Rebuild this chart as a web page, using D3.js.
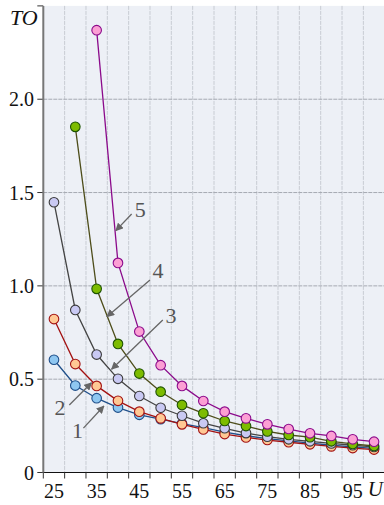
<!DOCTYPE html>
<html>
<head>
<meta charset="UTF-8">
<title>TO vs U</title>
<style>
  body { margin: 0; background: #fff; }
  svg { display: block; }
  svg text { font-family: "Times New Roman", Times, serif; }
</style>
</head>
<body>
<script src="https://d3js.org/d3.v7.min.js"></script>
<script>
// values
const uValues = [25, 30, 35, 40, 45, 50, 55, 60, 65, 70, 75, 80, 85, 90, 95, 100];
const curve1 = [0.604, 0.466, 0.398, 0.348, 0.309, 0.286, 0.262, 0.240, 0.216, 0.197, 0.182, 0.169, 0.157, 0.146, 0.137, 0.129];
const curve2 = [0.822, 0.581, 0.464, 0.384, 0.326, 0.290, 0.258, 0.231, 0.206, 0.188, 0.174, 0.162, 0.151, 0.140, 0.131, 0.123];
const curve3 = [1.448, 0.871, 0.632, 0.502, 0.410, 0.347, 0.304, 0.264, 0.237, 0.211, 0.192, 0.178, 0.167, 0.156, 0.146, 0.137];
const curve4 = [null, 1.852, 0.984, 0.689, 0.530, 0.433, 0.362, 0.317, 0.276, 0.249, 0.220, 0.201, 0.189, 0.167, 0.153, 0.142];
const curve5 = [null, null, 2.37, 1.123, 0.755, 0.575, 0.464, 0.383, 0.326, 0.290, 0.258, 0.233, 0.210, 0.196, 0.178, 0.165];

const xTickLabels = ["25", "35", "45", "55", "65", "75", "85", "95"];
const yTicks = [0, 0.5, 1.0, 1.5, 2.0, 2.5];
const yTickLabels = ["0", "0.5", "1.0", "1.5", "2.0", ""];

const width = 384, height = 505;
const svg = d3.select("body").append("svg").attr("width", width).attr("height", height);

const x = d3.scaleLinear().domain([22.5, 102.5]).range([43.3, 384.7]);
const y = d3.scaleLinear().domain([0, 2.5]).range([472.5, 5.9]);

// plot background
svg.append("rect")
  .attr("x", x(22.5)).attr("y", y(2.5))
  .attr("width", x(102.5) - x(22.5)).attr("height", y(0) - y(2.5))
  .attr("fill", "#edf0f6");

// grid: vertical lines sit between the U values
const gridX = d3.range(27.5, 100, 5);
svg.append("g").selectAll("line").data(gridX).join("line")
  .attr("x1", d => x(d)).attr("x2", d => x(d))
  .attr("y1", y(2.5)).attr("y2", y(0))
  .attr("stroke", "#c8ccd3").attr("stroke-width", 1).attr("stroke-dasharray", "4,1");
svg.append("g").selectAll("line").data(yTicks.slice(1, 5)).join("line")
  .attr("x1", x(22.5)).attr("x2", x(102.5))
  .attr("y1", d => y(d)).attr("y2", d => y(d))
  .attr("stroke", "#a6aab2").attr("stroke-width", 1).attr("stroke-dasharray", "4,1");

// x axis
const xAxis = svg.append("g");
xAxis.append("line")
  .attr("x1", x(22.5) - 5).attr("x2", x(102.5))
  .attr("y1", y(0)).attr("y2", y(0))
  .attr("stroke", "#111").attr("stroke-width", 1.2);
xAxis.selectAll(".tk").data([22.5].concat(gridX)).join("line")
  .attr("x1", d => x(d)).attr("x2", d => x(d))
  .attr("y1", y(0)).attr("y2", y(0) + 6)
  .attr("stroke", "#333").attr("stroke-width", 1);
xAxis.selectAll("text").data(xTickLabels).join("text")
  .attr("x", d => x(+d)).attr("y", 498)
  .attr("text-anchor", "middle").attr("font-size", 20).attr("fill", "#111")
  .text(d => d);
svg.append("text").attr("x", 383).attr("y", 496).attr("text-anchor", "end")
  .attr("font-size", 21).attr("font-style", "italic").attr("fill", "#111").text("U");

// y axis
const yAxis = svg.append("g");
yAxis.selectAll("line").data(yTicks).join("line")
  .attr("x1", x(22.5) - 6).attr("x2", x(22.5))
  .attr("y1", d => y(d)).attr("y2", d => y(d))
  .attr("stroke", "#333").attr("stroke-width", 1);
yAxis.selectAll("text").data(yTicks).join("text")
  .attr("x", 34).attr("y", d => y(d) + 7)
  .attr("text-anchor", "end").attr("font-size", 20).attr("fill", "#111")
  .text((d, i) => yTickLabels[i]);
yAxis.append("line")
  .attr("x1", x(22.5)).attr("x2", x(22.5))
  .attr("y1", y(2.5)).attr("y2", y(0))
  .attr("stroke", "#777").attr("stroke-width", 2);
svg.append("text").attr("x", 10).attr("y", 25)
  .attr("font-size", 22).attr("font-style", "italic").attr("fill", "#111").text("TO");

// curves
const series = [
  { values: curve1, line: "#1f4f8a", stroke: "#1f4f8a", fill: "#8fc7f1" },
  { values: curve2, line: "#a31212", stroke: "#a31212", fill: "#ffc894" },
  { values: curve3, line: "#444444", stroke: "#3a3a3a", fill: "#c9c9f3" },
  { values: curve4, line: "#4d4d1a", stroke: "#1d5200", fill: "#7dbc00" },
  { values: curve5, line: "#8b0a8b", stroke: "#8b0a8b", fill: "#fc9fd4" }
];

const line = d3.line()
  .defined(d => d.v != null)
  .x(d => x(d.u)).y(d => y(d.v));

series.forEach(s => {
  const pts = uValues.map((u, i) => ({ u: u, v: s.values[i] }));
  const g = svg.append("g");
  g.append("path").datum(pts)
    .attr("d", line).attr("fill", "none")
    .attr("stroke", s.line).attr("stroke-width", 1.3);
  g.selectAll("circle").data(pts.filter(d => d.v != null)).join("circle")
    .attr("cx", d => x(d.u)).attr("cy", d => y(d.v)).attr("r", 4.8)
    .attr("fill", s.fill).attr("stroke", s.stroke).attr("stroke-width", 1.1);
});

// curve numbers with arrows (data coordinates)
const notes = [
  { label: "1", tx: 30.5, ty: 0.185, x1: 31.9, y1: 0.238, x2: 36.7, y2: 0.356 },
  { label: "2", tx: 26.4, ty: 0.308, x1: 28.6, y1: 0.362, x2: 33.8, y2: 0.481 },
  { label: "3", tx: 52.4, ty: 0.801, x1: 50.5, y1: 0.817, x2: 38.5, y2: 0.553 },
  { label: "4", tx: 49.4, ty: 1.042, x1: 47.5, y1: 1.032, x2: 37.4, y2: 0.835 },
  { label: "5", tx: 45.2, ty: 1.369, x1: 43.2, y1: 1.385, x2: 39.5, y2: 1.296 }
];

svg.append("defs").append("marker")
  .attr("id", "head")
  .attr("viewBox", "0 -5 10 10")
  .attr("refX", 9).attr("refY", 0)
  .attr("markerWidth", 8).attr("markerHeight", 8)
  .attr("markerUnits", "userSpaceOnUse")
  .attr("orient", "auto")
  .append("path").attr("d", "M0,-5L10,0L0,5Z").attr("fill", "#666");

const ann = svg.append("g");
ann.selectAll("line").data(notes).join("line")
  .attr("x1", d => x(d.x1)).attr("y1", d => y(d.y1))
  .attr("x2", d => x(d.x2)).attr("y2", d => y(d.y2))
  .attr("stroke", "#666").attr("stroke-width", 1.3)
  .attr("marker-end", "url(#head)");
ann.selectAll("text").data(notes).join("text")
  .attr("x", d => x(d.tx)).attr("y", d => y(d.ty))
  .attr("text-anchor", "middle").attr("font-size", 22).attr("fill", "#555")
  .text(d => d.label);
</script>
</body>
</html>
